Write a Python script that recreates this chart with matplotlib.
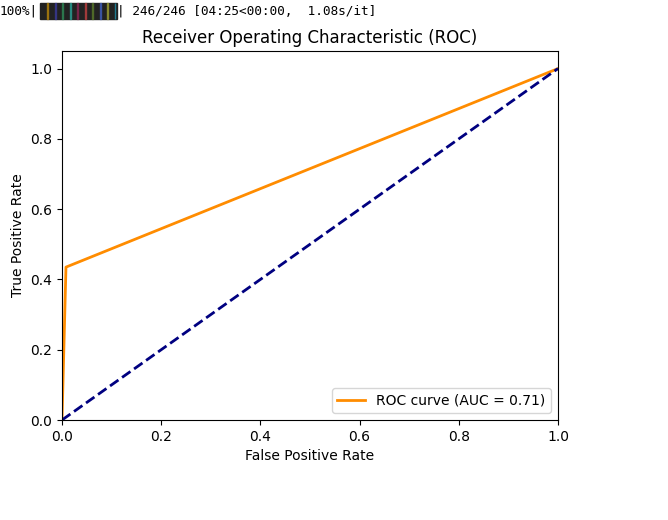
import matplotlib
matplotlib.use("Agg")
import matplotlib.pyplot as plt
from matplotlib.patches import Rectangle

# Data
fpr = [0.0, 0.008, 1.0]
tpr = [0.0, 0.435, 1.0]
diag = [0.0, 1.0]
auc_label = "ROC curve (AUC = 0.71)"
progress_left = "100%|"
progress_right = "| 246/246 [04:25<00:00,  1.08s/it]"
stripe_colors = ["#b8860b", "#3a3a9a", "#2e8b57", "#2aa198", "#8b2252",
                 "#c04040", "#5a7a2a", "#4060c0", "#a0a030", "#20a0c0"]

W, H = 668, 520
fig = plt.figure(figsize=(W / 100, H / 100), dpi=100)
ax = fig.add_axes([62 / W, 1 - 420 / H, (558 - 62) / W, (420 - 51) / H])

ax.plot(fpr, tpr, color="darkorange", lw=2, label=auc_label)
ax.plot(diag, diag, color="navy", lw=2, linestyle="--")
ax.set_xlim(0.0, 1.0)
ax.set_ylim(0.0, 1.05)
ax.set_xlabel("False Positive Rate")
ax.set_ylabel("True Positive Rate")
ax.set_title("Receiver Operating Characteristic (ROC)")
ax.legend(loc="lower right")

# tqdm-style progress text
fig.text(0 / W, 1 - 11 / H, progress_left, family="DejaVu Sans Mono",
         fontsize=9.2, va="center", ha="left")
bx0, bx1, by0, by1 = 40, 117, 3, 19
fig.patches.append(Rectangle((bx0 / W, 1 - by1 / H), (bx1 - bx0) / W,
                             (by1 - by0) / H, transform=fig.transFigure,
                             color="#222222", zorder=1))
n = len(stripe_colors)
for i, c in enumerate(stripe_colors):
    x = bx0 + (i + 1) * (bx1 - bx0) / (n + 0.3)
    fig.patches.append(Rectangle((x / W, 1 - by1 / H), 0.7 / W, (by1 - by0) / H,
                                 transform=fig.transFigure, color=c, zorder=2,
                                 alpha=0.7))
fig.text(bx1 / W, 1 - 11 / H, progress_right, family="DejaVu Sans Mono",
         fontsize=9.2, va="center", ha="left")

fig.savefig("out.png", dpi=100)
